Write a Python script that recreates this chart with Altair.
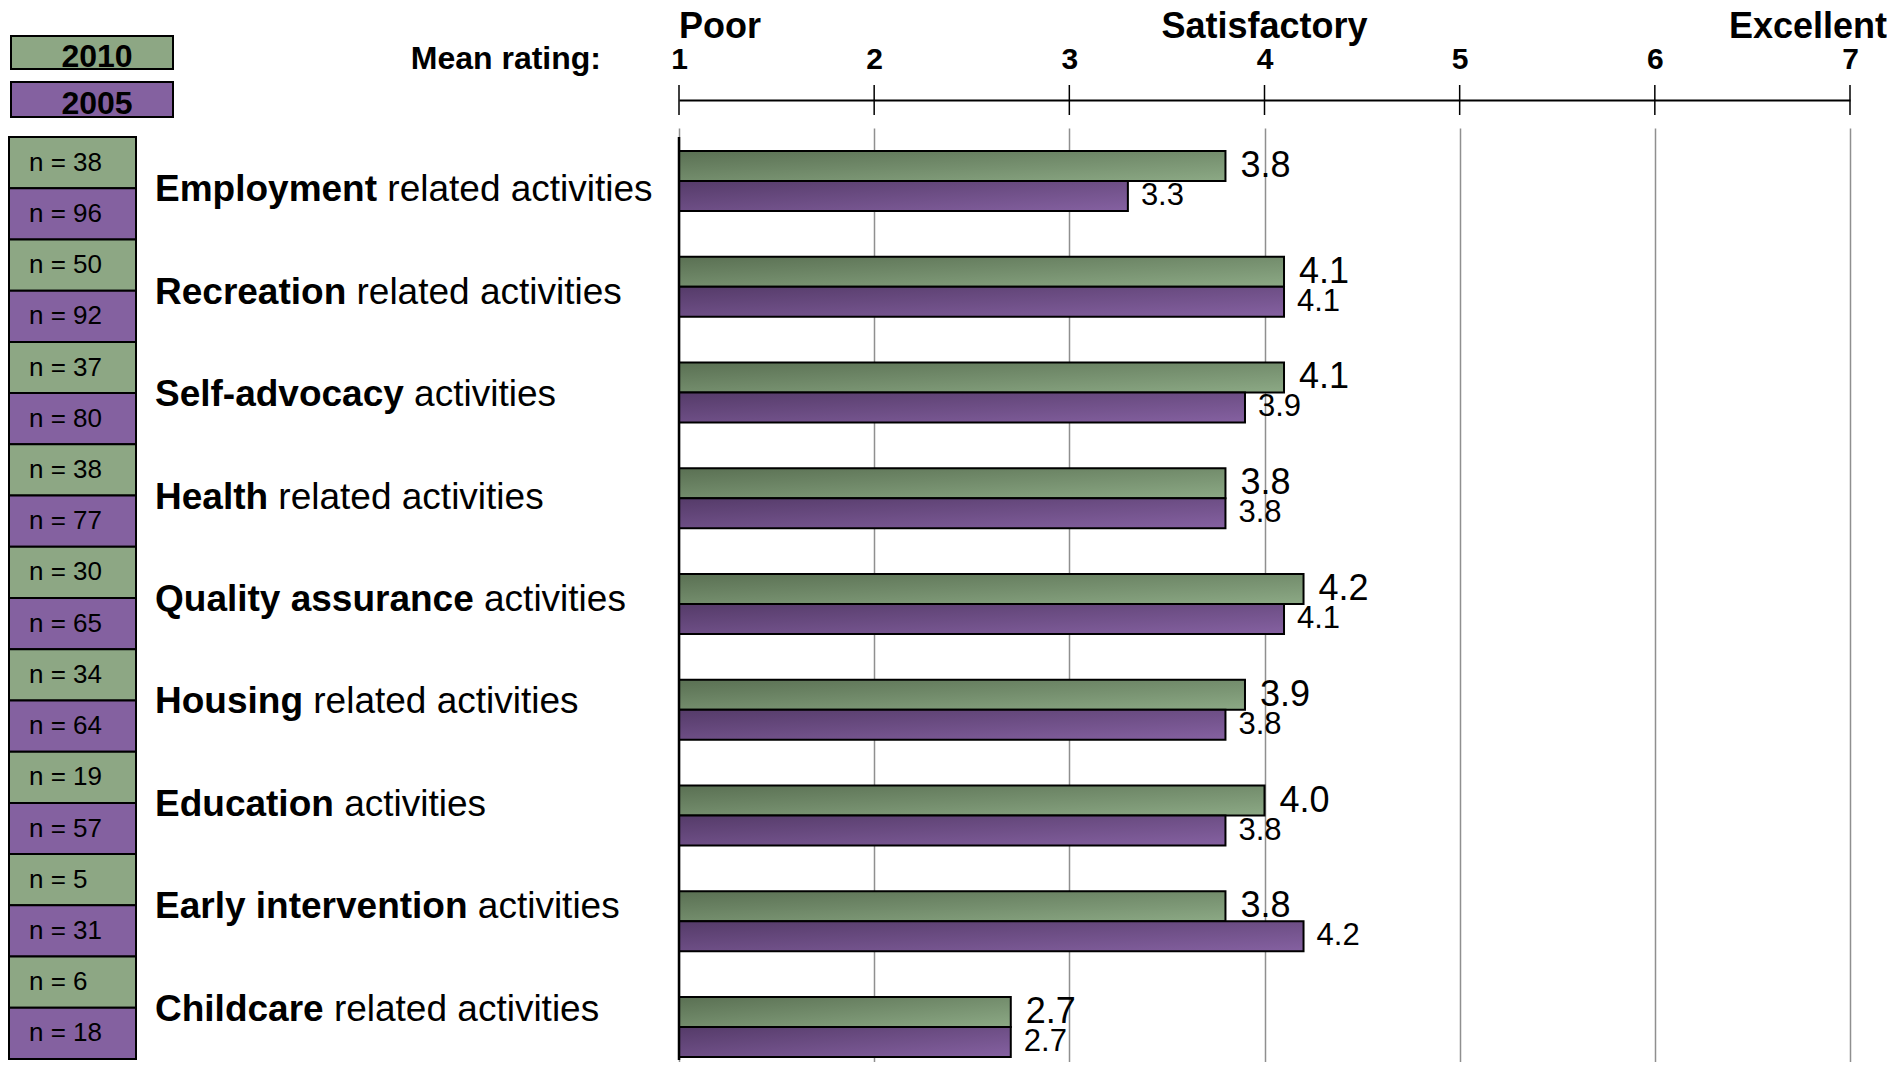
import altair as alt
import pandas as pd

# ---------------- data ----------------
categories = ["Employment", "Recreation", "Self-advocacy", "Health", "Quality assurance",
              "Housing", "Education", "Early intervention", "Childcare"]
bold_words = ["Employment", "Recreation", "Self-advocacy", "Health", "Quality assurance",
              "Housing", "Education", "Early intervention", "Childcare"]
rest_words = ["related activities", "related activities", "activities", "related activities",
              "activities", "related activities", "activities", "activities", "related activities"]
years = ["2010", "2005"]
values_2010 = [3.8, 4.1, 4.1, 3.8, 4.2, 3.9, 4.0, 3.8, 2.7]
values_2005 = [3.3, 4.1, 3.9, 3.8, 4.1, 3.8, 3.8, 4.2, 2.7]
n_2010 = [38, 50, 37, 38, 30, 34, 19, 5, 6]
n_2005 = [96, 92, 80, 77, 65, 64, 57, 31, 18]
ticks = [1, 2, 3, 4, 5, 6, 7]
scale_words = ["Poor", "Satisfactory", "Excellent"]
scale_word_pos = [1, 4, 7]
axis_caption = "Mean rating:"

GREEN = "#8da784"
PURPLE = "#8461a0"
FONT = "Liberation Sans"

# ---------------- tables ----------------
rows = []
for i, c in enumerate(categories):
    rows.append({"category": c, "year": "2010", "value": values_2010[i], "nlabel": f"n = {n_2010[i]}"})
    rows.append({"category": c, "year": "2005", "value": values_2005[i], "nlabel": f"n = {n_2005[i]}"})
df = pd.DataFrame(rows)

# Helvetica/Arial Bold advance widths (per 1000 em) for placing the regular part after the bold word
BW = {' ': 278, '-': 333, 'a': 556, 'b': 611, 'c': 556, 'd': 611, 'e': 556, 'f': 333, 'g': 611,
      'h': 611, 'i': 278, 'j': 278, 'k': 556, 'l': 278, 'm': 889, 'n': 611, 'o': 611, 'p': 611,
      'q': 611, 'r': 389, 's': 556, 't': 333, 'u': 611, 'v': 556, 'w': 778, 'x': 556, 'y': 556,
      'z': 500, 'E': 667, 'R': 722, 'S': 667, 'H': 722, 'Q': 778, 'C': 722}
LABEL_FS = 37
LABEL_X = 146
lab = pd.DataFrame({
    "category": categories,
    "bold": bold_words,
    "rest": rest_words,
    "rest_x": [LABEL_X + (sum(BW.get(ch, 600) for ch in b) + 278) * LABEL_FS / 1000 for b in bold_words],
})
ticks_df = pd.DataFrame({"value": ticks})
words_df = pd.DataFrame({"value": scale_word_pos, "word": scale_words})
one = pd.DataFrame({"k": [0]})
legend_df = pd.DataFrame({"year": years})

# ---------------- left panel (n boxes + labels + legend) ----------------
y_left = alt.Y("category:N", sort=categories, axis=None,
               scale=alt.Scale(domain=categories, range=[9, 931], paddingInner=0, paddingOuter=0))
y_off = alt.YOffset("year:N", sort=years,
                    scale=alt.Scale(domain=years, paddingInner=0, paddingOuter=0))
col = alt.Color("year:N", scale=alt.Scale(domain=years, range=[GREEN, PURPLE]), legend=None)

nbox = alt.Chart(df).mark_rect(stroke="black", strokeWidth=2).encode(
    x=alt.value(0), x2=alt.value(127), y=y_left, yOffset=y_off, color=col)
ntext = alt.Chart(df).mark_text(align="left", baseline="middle", fontSize=26, font=FONT,
                                color="black").encode(
    x=alt.value(20), y=y_left, yOffset=y_off, text="nlabel:N")
lab_bold = alt.Chart(lab).mark_text(align="left", baseline="alphabetic", dy=13, fontSize=LABEL_FS,
                                    fontWeight="bold", font=FONT, color="black").encode(
    x=alt.value(LABEL_X), y=y_left, text="bold:N")
lab_rest = alt.Chart(lab).mark_text(align="left", baseline="alphabetic", dy=13, fontSize=LABEL_FS,
                                    font=FONT, color="black").encode(
    x=alt.X("rest_x:Q", scale=None), y=y_left, text="rest:N")

leg_layers = []
for yr, colr, y0, y1, ty in [("2010", GREEN, -92, -59, -61), ("2005", PURPLE, -46, -11, -14)]:
    base = alt.Chart(legend_df).transform_filter(alt.datum.year == yr)
    leg_layers.append(base.mark_rect(color=colr, stroke="black", strokeWidth=2).encode(
        x=alt.value(2), x2=alt.value(164), y=alt.value(y0), y2=alt.value(y1)))
    leg_layers.append(base.mark_text(align="center", baseline="alphabetic", fontSize=32,
                                     fontWeight="bold", font=FONT, color="black").encode(
        x=alt.value(88), y=alt.value(ty), text="year:N"))

caption = alt.Chart(one).mark_text(align="right", baseline="alphabetic", fontSize=32,
                                   fontWeight="bold", font=FONT, color="black").encode(
    x=alt.value(592), y=alt.value(-59), text=alt.value(axis_caption))

left = alt.layer(nbox, ntext, lab_bold, lab_rest, *leg_layers, caption).properties(
    width=670, height=932)

# ---------------- right panel (bars) ----------------
x_axis = alt.Axis(orient="top", values=ticks, offset=28, domain=True, domainColor="black",
                  domainWidth=2, ticks=False, tickSize=0, labelFont=FONT, labelFontSize=30,
                  labelFontWeight="bold", labelColor="black", labelPadding=32,
                  labelBaseline="alphabetic", labelFlush=False, grid=True,
                  gridColor="#8f8f8f", gridWidth=1.5, title=None)
x_scale = alt.Scale(domain=[1, 7], nice=False, zero=False)
X = alt.X("value:Q", scale=x_scale, axis=x_axis)
y_right = alt.Y("category:N", sort=categories, axis=None,
                scale=alt.Scale(domain=categories, range=[0, 952],
                                paddingInner=0.4326, paddingOuter=0.2165))
y_off_r = alt.YOffset("year:N", sort=years,
                      scale=alt.Scale(domain=years, paddingInner=0, paddingOuter=0))

grad = {
    "2010": alt.Gradient(gradient="linear", x1=0, y1=0, x2=1, y2=1,
                         stops=[alt.GradientStop(offset=0, color="#5a7053"),
                                alt.GradientStop(offset=1, color="#8ca985")]),
    "2005": alt.Gradient(gradient="linear", x1=0, y1=0, x2=1, y2=1,
                         stops=[alt.GradientStop(offset=0, color="#553b69"),
                                alt.GradientStop(offset=1, color="#8561a1")]),
}

layers = []
tick_rules = alt.Chart(ticks_df).mark_rule(color="black", strokeWidth=1.5).encode(
    x=X, y=alt.value(-43), y2=alt.value(-13))
layers.append(tick_rules)
for yr, fs, dx in [("2010", 36, 15), ("2005", 31, 13)]:
    base = alt.Chart(df).transform_filter(alt.datum.year == yr)
    layers.append(base.mark_bar(color=grad[yr], stroke="black", strokeWidth=2).encode(
        x=X, x2=alt.datum(1), y=y_right, yOffset=y_off_r))
    layers.append(base.mark_text(align="left", baseline="middle", dx=dx, fontSize=fs, font=FONT,
                                 color="black").encode(
        x=X, y=y_right, yOffset=y_off_r, text=alt.Text("value:Q", format=".1f")))

yaxis_line = alt.Chart(one).mark_rule(color="black", strokeWidth=2.5).encode(
    x=alt.value(0), y=alt.value(9), y2=alt.value(932))
layers.append(yaxis_line)

for pos, align, dx in [(1, "left", 0), (4, "center", 0), (7, "right", 37)]:
    layers.append(alt.Chart(words_df).transform_filter(alt.datum.value == pos).mark_text(
        align=align, baseline="alphabetic", dx=dx, fontSize=36, fontWeight="bold", font=FONT,
        color="black").encode(x=X, y=alt.value(-90), text="word:N"))

pin = alt.Chart(one).mark_rule(opacity=0, strokeWidth=1).encode(
    x=alt.value(0), y=alt.value(-120), y2=alt.value(-119))
layers.append(pin)

right = alt.layer(*layers).properties(width=1171, height=932)

chart = alt.hconcat(left, right, spacing=0, bounds="flush").properties(
    padding=0
).resolve_scale(y="independent", yOffset="independent").configure_view(stroke=None)

chart.save("out.html", embed_options={"renderer": "svg", "actions": False})
